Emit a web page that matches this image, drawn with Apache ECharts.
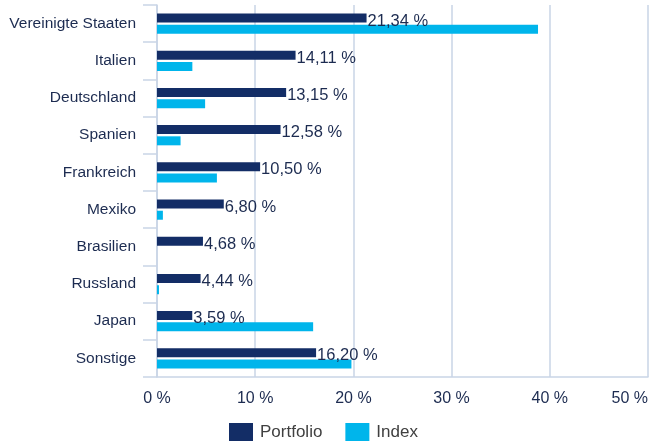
<!DOCTYPE html>
<html><head><meta charset="utf-8">
<script src="https://cdn.jsdelivr.net/npm/echarts@6/dist/echarts.min.js"></script>
<style>html,body{margin:0;padding:0;background:#fff}#c{width:650px;height:441px}</style>
</head><body><div id="c"></div>
<script>
const categories = ['Vereinigte Staaten','Italien','Deutschland','Spanien','Frankreich','Mexiko','Brasilien','Russland','Japan','Sonstige'];
const portfolio = [21.34,14.11,13.15,12.58,10.50,6.80,4.68,4.44,3.59,16.20];
const indexVals = [38.8,3.6,4.9,2.4,6.1,0.6,0,0.2,15.9,19.8];
const xTicks = [0,10,20,30,40,50];

const axisCol = '#c9d5e6';
const txtCol = '#1c2b50';
const font = 'Liberation Sans, Arial, sans-serif';
const chart = echarts.init(document.getElementById('c'));
chart.setOption({
  animation:false,
  textStyle:{fontFamily:font},
  grid:{left:157,right:2,top:5,bottom:64,containLabel:false,outerBoundsMode:'none'},
  legend:{top:423,left:229,padding:0,itemWidth:24,itemHeight:18,itemGap:23,icon:'rect',
    textStyle:{color:'#404040',fontSize:17,fontFamily:font,padding:[0,0,0,2]},
    data:['Portfolio','Index']},
  xAxis:{type:'value',min:xTicks[0],max:xTicks[xTicks.length-1],interval:10,
    axisLine:{show:true,lineStyle:{color:axisCol,width:1.5}},
    axisTick:{show:false},
    splitLine:{show:true,lineStyle:{color:axisCol,width:1.5}},
    axisLabel:{formatter:v=>v+' %',color:txtCol,fontSize:16,margin:14,fontFamily:font,alignMaxLabel:'right'}},
  yAxis:{type:'category',inverse:true,data:categories,
    axisLine:{show:true,lineStyle:{color:axisCol,width:1.5}},
    axisTick:{show:true,length:14,lineStyle:{color:axisCol,width:1.5}},
    axisLabel:{color:txtCol,fontSize:15.5,margin:21,fontFamily:font}},
  series:[
    {name:'Portfolio',type:'bar',data:portfolio,barWidth:9,barGap:'25%',
     itemStyle:{color:'#132d66'},
     label:{show:true,position:'right',distance:1,offset:[0,3],color:txtCol,fontSize:16.5,fontFamily:font,
       formatter:p=>p.value.toFixed(2).replace('.',',')+' %'}},
    {name:'Index',type:'bar',data:indexVals,barWidth:9,barGap:'25%',
     itemStyle:{color:'#00b5eb'}}
  ]
});
</script></body></html>
